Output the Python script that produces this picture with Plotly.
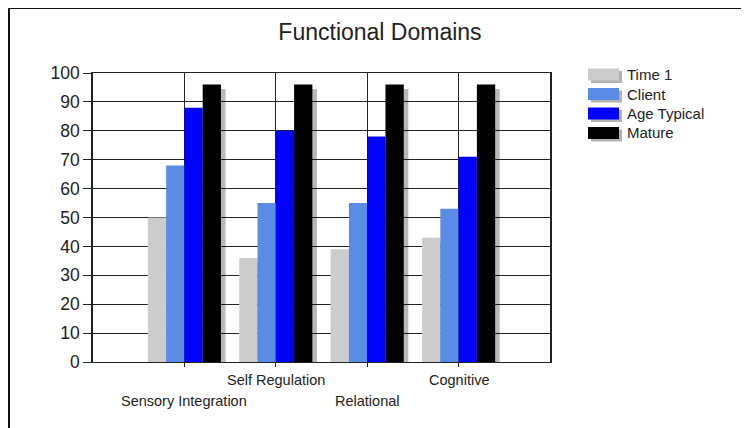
import plotly.graph_objects as go

categories = ["Sensory Integration", "Self Regulation", "Relational", "Cognitive"]
series_names = ["Time 1", "Client", "Age Typical", "Mature"]
time1 = [50, 36, 39, 43]
client = [68, 55, 55, 53]
age_typical = [88, 80, 78, 71]
mature = [96, 96, 96, 96]
colors = ["#CCCCCC", "#5A8CE6", "#0000FF", "#000000"]

series = [time1, client, age_typical, mature]
xpos = [i + 1 for i in range(len(categories))]

OFF = 8  # page body margin
W, H = 749 - OFF, 428 - OFF
# plot area in window coordinates: x 93..550, y 72.7..361.7
L, T = 93 - OFF, 73 - OFF
R = W - (550 - OFF)
B = H - (362 - OFF)
PW, PH = W - L - R, H - T - B

def px_x(xp):
    return (xp - OFF - L) / PW

def px_y(yp):
    return (H - B - (yp - OFF)) / PH

fig = go.Figure()
bw = 0.2
# shadows
for i, vals in enumerate(series):
    fig.add_trace(go.Bar(
        x=xpos, y=vals, base=-1.5, width=bw, offset=-0.4 + i * bw + 0.05,
        marker=dict(color="rgba(0,0,0,0.28)", line=dict(width=0)),
        showlegend=False, hoverinfo="skip"))
for i, vals in enumerate(series):
    fig.add_trace(go.Bar(
        x=xpos, y=vals, width=bw, offset=-0.4 + i * bw, name=series_names[i],
        marker=dict(color=colors[i], line=dict(width=0)),
        showlegend=False))

annotations = []
for i, cat in enumerate(categories):
    ypix = 379.5 if i % 2 == 1 else 401
    annotations.append(dict(x=xpos[i], y=px_y(ypix), xref="x", yref="paper",
                            text=cat, showarrow=False, yanchor="middle",
                            font=dict(family="Liberation Sans, Arial", size=14.5, color="#222")))

shapes = []
row_y = [74.5, 94, 113.5, 133]
for i, name in enumerate(series_names):
    yc = row_y[i]
    shapes.append(dict(type="rect", xref="paper", yref="paper",
                       x0=px_x(591), x1=px_x(622), y0=px_y(yc + 8.5), y1=px_y(yc - 3.5),
                       fillcolor="rgba(0,0,0,0.3)", line=dict(width=0), layer="above"))
    shapes.append(dict(type="rect", xref="paper", yref="paper",
                       x0=px_x(588), x1=px_x(619), y0=px_y(yc + 6), y1=px_y(yc - 6),
                       fillcolor=colors[i], line=dict(width=0), layer="above"))
    annotations.append(dict(x=px_x(625), y=px_y(yc), xref="paper", yref="paper",
                            text=name, showarrow=False, xanchor="left", yanchor="middle",
                            font=dict(family="Liberation Sans, Arial", size=15, color="#222")))

# outer frame
shapes.append(dict(type="rect", xref="paper", yref="paper",
                   x0=px_x(9), x1=px_x(748), y0=px_y(8), y1=px_y(445),
                   line=dict(color="#111", width=2), fillcolor="rgba(0,0,0,0)", layer="above"))

fig.update_layout(
    width=W, height=H,
    margin=dict(l=L, r=R, t=T, b=B),
    paper_bgcolor="white", plot_bgcolor="white",
    barmode="overlay",
    title=dict(text="Functional Domains", x=(380 - OFF) / W, xanchor="center",
               y=1 - (32 - OFF) / H, yanchor="middle", yref="container",
               font=dict(family="Liberation Sans, Arial", size=23, color="#222")),
    xaxis=dict(range=[0, 5], tickvals=xpos, showticklabels=False,
               ticks="outside", ticklen=4, tickcolor="#222",
               showgrid=True, gridcolor="#222", gridwidth=1,
               showline=True, linecolor="#222", linewidth=1, mirror=True,
               zeroline=False, fixedrange=True),
    yaxis=dict(range=[0, 100], dtick=10, ticks="outside", ticklen=8, tickcolor="#222",
               showgrid=True, gridcolor="#222", gridwidth=1,
               showline=True, linecolor="#222", linewidth=1.5, mirror=True,
               zeroline=False,
               tickfont=dict(family="Liberation Sans, Arial", size=17.5, color="#222")),
    annotations=annotations, shapes=shapes,
    showlegend=False,
)

fig.write_html("out.html")
